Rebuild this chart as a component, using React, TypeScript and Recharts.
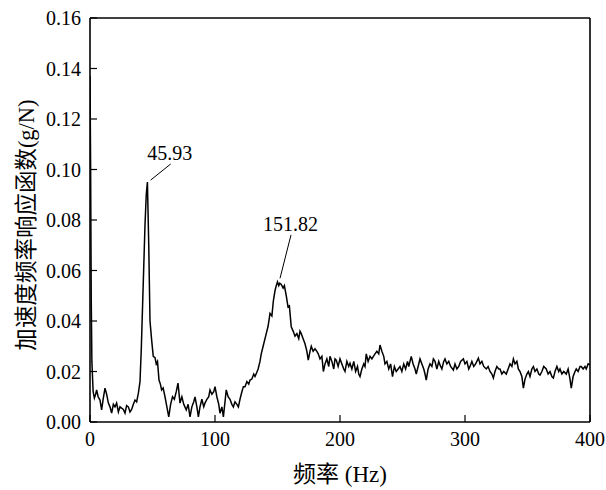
import React from 'react';
import { LineChart, Line, XAxis, YAxis, ReferenceLine, ReferenceDot } from 'recharts';

// Frequency (Hz)
const freq = [
  0, 0.5, 1, 1.5, 2.5, 3.5, 4.5, 5.3, 6.5, 8, 9.3, 10.5, 12, 13.3, 14.7, 16, 17.3, 18.7, 20, 21.3,
  22.7, 24, 25.3, 26.7, 28, 29.3, 30.7, 32, 33.3, 34.7, 36, 37.3, 38.7, 40, 41, 42, 43, 44, 45, 45.93,
  47, 48, 49.3, 50.6, 52, 53, 54, 55.2, 56.3, 57.3, 58.5, 60, 61.5, 63, 64.5, 66, 67.5, 69, 70.4, 72,
  73.5, 75, 77, 78.5, 80, 81.5, 83, 84, 85.5, 86.7, 88, 89.5, 91, 92, 93.5, 95, 96, 97.5, 99, 100,
  101.5, 103, 104, 105.5, 106.7, 108, 109, 110.5, 112, 113.5, 114.7, 116, 117.5, 118.7, 120, 121.5, 122.7, 124, 125.5, 127,
  128, 129.5, 131, 132, 133.3, 134.5, 136, 137, 138.5, 140, 141, 142.5, 144, 145.5, 146.7, 148, 149, 150, 151, 151.82,
  153, 154.5, 155.5, 157, 158.4, 159.5, 161, 162.5, 164, 165.5, 167, 168, 169, 170.5, 172, 173.5, 174.6, 176, 177, 178.5,
  180, 181.5, 182.6, 184, 185.5, 186.7, 188, 189.5, 191, 192, 193.5, 195, 196, 197, 198.5, 200, 201.5, 203, 204, 205.5,
  207, 208, 209.5, 211, 212.5, 214, 215, 216, 217.5, 219, 220, 221, 222.5, 224, 225.5, 226.7, 228, 229.5, 231, 232,
  233.5, 235, 236, 237.5, 239, 240.5, 242, 243.5, 245, 246.5, 248, 249.5, 251, 252.5, 254, 255, 257, 258.5, 260, 261,
  262.5, 264, 265.5, 267, 268, 269, 270.5, 272, 273.5, 274.7, 276, 277.5, 279, 280, 281.5, 283, 284, 285.5, 287, 288.5,
  290.7, 292, 293.5, 295, 296.5, 298.7, 300, 301.5, 303, 304, 305.5, 307, 308.5, 310.7, 312, 313.5, 315, 317, 318.5, 320,
  321.5, 322.7, 324, 325.5, 327, 328, 329.5, 331, 333, 334.5, 336, 337.5, 338.7, 340, 341.5, 342.7, 344, 345.5, 346.7, 348,
  349.5, 350.7, 352, 353.5, 354.7, 356, 357.5, 359, 360, 361.5, 363, 365, 366.5, 368, 369.5, 370.7, 372, 373.5, 375, 376,
  377.5, 379, 381, 382.5, 384, 385, 386.5, 388, 389, 390.5, 392, 393, 394.5, 396, 397, 398.5, 400,
];

// Acceleration frequency response (g/N)
const amp = [
  0.137, 0.1, 0.048, 0.024, 0.012, 0.0095, 0.011, 0.0127, 0.01, 0.0087, 0.0048, 0.009, 0.0134, 0.011, 0.0075, 0.006, 0.0035, 0.007, 0.006, 0.0075,
  0.004, 0.006, 0.0055, 0.005, 0.0035, 0.0065, 0.006, 0.004, 0.005, 0.007, 0.0087, 0.008, 0.0114, 0.016, 0.0285, 0.045, 0.0615, 0.078, 0.09, 0.095,
  0.07, 0.04, 0.0325, 0.026, 0.0255, 0.023, 0.024, 0.0166, 0.015, 0.0127, 0.0135, 0.01, 0.006, 0.002, 0.007, 0.01, 0.009, 0.012, 0.0154, 0.0075,
  0.01, 0.007, 0.0048, 0.007, 0.002, 0.006, 0.008, 0.0099, 0.006, 0.002, 0.006, 0.009, 0.006, 0.0075, 0.009, 0.01, 0.0127, 0.011, 0.012, 0.014,
  0.01, 0.007, 0.0035, 0.006, 0.002, 0.008, 0.0127, 0.01, 0.009, 0.007, 0.006, 0.008, 0.007, 0.006, 0.009, 0.012, 0.014, 0.014, 0.016, 0.015,
  0.0166, 0.017, 0.019, 0.018, 0.0195, 0.021, 0.024, 0.027, 0.03, 0.033, 0.035, 0.038, 0.043, 0.042, 0.048, 0.052, 0.054, 0.0555, 0.054, 0.055,
  0.0545, 0.053, 0.054, 0.05, 0.0456, 0.046, 0.0377, 0.036, 0.034, 0.035, 0.033, 0.036, 0.035, 0.033, 0.031, 0.028, 0.0245, 0.028, 0.03, 0.028,
  0.029, 0.028, 0.027, 0.025, 0.026, 0.02, 0.023, 0.025, 0.022, 0.026, 0.024, 0.021, 0.025, 0.0245, 0.022, 0.025, 0.023, 0.021, 0.02, 0.024,
  0.022, 0.0233, 0.021, 0.024, 0.02, 0.022, 0.019, 0.018, 0.021, 0.023, 0.022, 0.027, 0.024, 0.026, 0.025, 0.026, 0.027, 0.028, 0.027, 0.0305,
  0.028, 0.026, 0.023, 0.024, 0.021, 0.023, 0.018, 0.022, 0.02, 0.021, 0.022, 0.02, 0.023, 0.021, 0.024, 0.022, 0.026, 0.023, 0.021, 0.019,
  0.022, 0.025, 0.023, 0.021, 0.019, 0.0166, 0.021, 0.023, 0.022, 0.025, 0.024, 0.021, 0.024, 0.0226, 0.021, 0.024, 0.025, 0.023, 0.024, 0.022,
  0.0206, 0.023, 0.021, 0.022, 0.024, 0.025, 0.023, 0.024, 0.021, 0.022, 0.024, 0.022, 0.023, 0.0253, 0.023, 0.024, 0.022, 0.021, 0.022, 0.02,
  0.019, 0.0174, 0.02, 0.022, 0.021, 0.021, 0.019, 0.02, 0.019, 0.021, 0.023, 0.022, 0.025, 0.023, 0.024, 0.021, 0.02, 0.018, 0.0134, 0.017,
  0.019, 0.02, 0.018, 0.021, 0.022, 0.02, 0.021, 0.019, 0.0186, 0.02, 0.022, 0.021, 0.019, 0.02, 0.018, 0.0174, 0.02, 0.022, 0.02, 0.021,
  0.019, 0.02, 0.019, 0.021, 0.017, 0.0134, 0.018, 0.02, 0.021, 0.02, 0.022, 0.022, 0.021, 0.022, 0.021, 0.023, 0.0226,
];

const xTicks = [0, 100, 200, 300, 400];
const xMinorTicks = [50, 150, 250, 350];
const yTicks = [0, 0.02, 0.04, 0.06, 0.08, 0.1, 0.12, 0.14, 0.16];
const yMinorTicks = [0.01, 0.03, 0.05, 0.07, 0.09, 0.11, 0.13, 0.15];

// Peak annotations: label text, text anchor point, leader line start/end (data units)
const peakLabels = ['45.93', '151.82'];
const peakTextX = [63.7, 160.4];
const peakTextY = [0.1067, 0.0786];
const leaderX1 = [48.5, 152];
const leaderY1 = [0.0958, 0.0569];
const leaderX2 = [64.6, 160.8];
const leaderY2 = [0.1022, 0.0741];

const data = freq.map((f, i) => ({ f, a: amp[i] }));

const serif = "'Liberation Serif', Tinos, 'Times New Roman', 'DejaVu Serif', serif";
const cjk = "'Liberation Serif', Tinos, 'DejaVu Serif', 'Noto Sans CJK SC', serif";
const tickStyle = { fontFamily: serif, fontSize: 20, fill: '#000' };

export default function App() {
  return (
    <div
      style={{
        position: 'absolute',
        left: 0,
        top: 0,
        width: 606,
        height: 490,
        background: '#fff',
        fontFamily: serif,
      }}
    >
      <LineChart
        width={606}
        height={490}
        data={data}
        margin={{ top: 18, right: 16, bottom: 38, left: 30 }}
      >
        <XAxis
          xAxisId="minor"
          dataKey="f"
          type="number"
          domain={[0, 400]}
          ticks={xMinorTicks}
          interval={0}
          mirror
          height={0}
          tick={false}
          tickSize={4}
          axisLine={false}
          tickLine={{ stroke: '#000', strokeWidth: 1.2 }}
          allowDataOverflow
        />
        <YAxis
          yAxisId="minor"
          type="number"
          domain={[0, 0.16]}
          ticks={yMinorTicks}
          interval={0}
          mirror
          width={0}
          tick={false}
          tickSize={4}
          axisLine={false}
          tickLine={{ stroke: '#000', strokeWidth: 1.2 }}
          allowDataOverflow
        />
        <XAxis
          dataKey="f"
          type="number"
          domain={[0, 400]}
          ticks={xTicks}
          interval={0}
          height={30}
          tickSize={-7}
          tickMargin={17}
          tick={tickStyle}
          axisLine={{ stroke: '#000', strokeWidth: 1.6 }}
          tickLine={{ stroke: '#000', strokeWidth: 1.2 }}
          allowDataOverflow
          label={{
            value: '频率 (Hz)',
            position: 'center',
            dy: 37,
            style: { fontFamily: cjk, fontSize: 23, fill: '#000' },
          }}
        />
        <YAxis
          type="number"
          domain={[0, 0.16]}
          ticks={yTicks}
          interval={0}
          width={60}
          tickSize={-7}
          tickMargin={16}
          tick={tickStyle}
          tickFormatter={(v: number) => v.toFixed(2)}
          axisLine={{ stroke: '#000', strokeWidth: 1.6 }}
          tickLine={{ stroke: '#000', strokeWidth: 1.2 }}
          allowDataOverflow
          label={{
            value: '加速度频率响应函数(g/N)',
            position: 'center',
            angle: -90,
            dx: -34,
            dy: 5,
            style: { fontFamily: cjk, fontSize: 22.5, fill: '#000', textAnchor: 'middle' },
          }}
        />
        <ReferenceLine y={0.16} stroke="#000" strokeWidth={1.6} />
        <ReferenceLine x={400} stroke="#000" strokeWidth={1.6} />
        {peakLabels.map((_, i) => (
          <ReferenceLine
            key={`l${i}`}
            segment={[
              { x: leaderX1[i], y: leaderY1[i] },
              { x: leaderX2[i], y: leaderY2[i] },
            ]}
            stroke="#000"
            strokeWidth={1}
          />
        ))}
        {peakLabels.map((t, i) => (
          <ReferenceDot
            key={`d${i}`}
            x={peakTextX[i]}
            y={peakTextY[i]}
            r={0}
            stroke="none"
            fill="none"
            label={{
              value: t,
              position: 'center',
              style: { fontFamily: serif, fontSize: 20, fill: '#000' },
            }}
          />
        ))}
        <Line
          type="linear"
          dataKey="a"
          stroke="#000"
          strokeWidth={1.5}
          dot={false}
          isAnimationActive={false}
        />
      </LineChart>
    </div>
  );
}
